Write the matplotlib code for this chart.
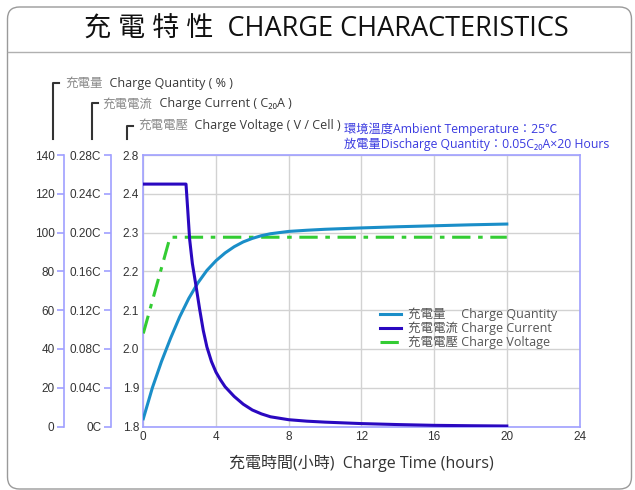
import matplotlib
matplotlib.use("Agg")
import matplotlib.pyplot as plt
from matplotlib.patches import FancyBboxPatch
from matplotlib.lines import Line2D

FAM = ['Open Sans', 'Noto Sans CJK TC', 'DejaVu Sans']
CJK = ['Noto Sans CJK TC', 'DejaVu Sans']
plt.rcParams['font.family'] = FAM

# ---------------- data ----------------
hours_q = [0, 0.5, 1, 1.5, 2, 2.5, 3, 3.5, 4, 4.5, 5, 5.5, 6, 6.5, 7, 8, 9, 10, 12, 14, 16, 18, 20]
quantity = [4, 20, 33.5, 45.5, 56.5, 66, 74, 80.5, 85.5, 89.5, 92.7, 95.2, 97, 98.4, 99.4,
            100.6, 101.2, 101.7, 102.4, 103, 103.5, 104, 104.4]

hours_c = [0, 2.35, 2.45, 2.55, 2.7, 2.9, 3.1, 3.3, 3.5, 3.75, 4, 4.25, 4.5, 5, 5.5, 6, 6.5,
           7, 7.5, 8, 9, 10, 12, 14, 16, 18, 20]
current = [0.25, 0.25, 0.222, 0.193, 0.168, 0.145, 0.121, 0.099, 0.082, 0.067, 0.056, 0.048,
           0.041, 0.031, 0.023, 0.017, 0.013, 0.010, 0.0085, 0.007, 0.0055, 0.0045, 0.003,
           0.002, 0.0012, 0.0008, 0.0005]

hours_v = [0, 1.47, 20]
voltage = [2.04, 2.288, 2.288]

x_ticks = [0, 4, 8, 12, 16, 20, 24]
v_ticks = [1.8, 1.9, 2.0, 2.1, 2.2, 2.3, 2.4, 2.5]
v_tick_labels = ["1.8", "1.9", "2.0", "2.1", "2.2", "2.3", "2.4", "2.8"]
q_ticks = [0, 20, 40, 60, 80, 100, 120, 140]
c_ticks = [0, 0.04, 0.08, 0.12, 0.16, 0.20, 0.24, 0.28]
c_tick_labels = ["0C", "0.04C", "0.08C", "0.12C", "0.16C", "0.20C", "0.24C", "0.28C"]

title = "充 電 特 性  CHARGE CHARACTERISTICS"
xlabel = "充電時間(小時)  Charge Time (hours)"
q_label = ("充電量", "  Charge Quantity ( % )")
c_label = ("充電電流", "  Charge Current ( C₂₀A )")
v_label = ("充電電壓", "  Charge Voltage ( V / Cell )")
note1 = "環境溫度Ambient Temperature：25℃"
note2 = "放電量Discharge Quantity：0.05C₂₀A×20 Hours"
legend_labels = ["充電量　 Charge Quantity", "充電電流 Charge Current", "充電電壓 Charge Voltage"]

# ---------------- styles ----------------
W, H = 635, 490
col_q = "#1a8ec8"
col_c = "#2a08c0"
col_v = "#33cc33"
spine_col = "#a0a0ff"
grid_col = "#d2d2d2"
num_font = ['Liberation Sans', 'DejaVu Sans']

fig = plt.figure(figsize=(W / 100, H / 100), dpi=100)
fig.patch.set_facecolor("white")

def fx(x):
    return x / W

def fy(y):
    return 1 - y / H

# frame box
box = FancyBboxPatch((0.075, 0.01), 6.24, 4.82,
                     boxstyle="round,pad=0,rounding_size=0.12",
                     transform=fig.dpi_scale_trans, facecolor="none",
                     edgecolor="#9a9a9a", linewidth=1.0)
fig.add_artist(box)
fig.add_artist(Line2D([fx(8), fx(631)], [fy(52), fy(52)], transform=fig.transFigure,
                      color="#b0b0b0", linewidth=1.0))
fig.text(fx(326), fy(30), title, ha="center", va="center", fontsize=19.5, color="#111111")

left, right, top, bottom = 143.3, 579.5, 155, 426.5
ax = fig.add_axes([fx(left), fy(bottom), (right - left) / W, (bottom - top) / H])
ax.set_xlim(0, 24)
ax.set_ylim(1.8, 2.5)
ax.set_xticks(x_ticks)
ax.set_xticklabels([str(t) for t in x_ticks], fontfamily=num_font, fontsize=8.5, color="#333333")
ax.set_yticks(v_ticks)
ax.set_yticklabels(v_tick_labels, fontfamily=num_font, fontsize=8.5, color="#333333")
ax.tick_params(axis="both", length=0)
ax.tick_params(axis="x", pad=3)
ax.tick_params(axis="y", pad=3)
ax.grid(True, color=grid_col, linewidth=1.0)
ax.set_axisbelow(True)
for s in ax.spines.values():
    s.set_color(spine_col)
    s.set_linewidth(1.2)
ax.set_xlabel(xlabel, fontsize=11.5, color="#333333", labelpad=9)

lv, = ax.plot(hours_v, voltage, color=col_v, linewidth=2.2,
              dashes=(6, 2.5, 1.5, 2.5), zorder=3)

def make_side(offset_px, ylim, ticks, labels):
    a = ax.twinx()
    a.set_ylim(*ylim)
    a.yaxis.set_ticks_position("left")
    a.yaxis.set_label_position("left")
    for k in ("right", "top", "bottom"):
        a.spines[k].set_visible(False)
    a.spines["left"].set_visible(True)
    a.spines["left"].set_position(("axes", offset_px / (right - left)))
    a.spines["left"].set_color(spine_col)
    a.spines["left"].set_linewidth(1.2)
    a.set_yticks(ticks)
    a.set_yticklabels(labels, fontfamily=num_font, fontsize=8.5, color="#333333")
    a.tick_params(axis="y", direction="out", length=5, width=1.2, color=spine_col, pad=2)
    return a

ax_q = make_side(64.3 - left, (0, 140), q_ticks, [str(t) for t in q_ticks])
ax_c = make_side(111 - left, (0, 0.28), c_ticks, c_tick_labels)

lq, = ax_q.plot(hours_q, quantity, color=col_q, linewidth=2.2)
lc, = ax_c.plot(hours_c, current, color=col_c, linewidth=2.2)

renderer = fig.canvas.get_renderer()

# axis label brackets
for (bx, by, tx, ty, (cj, en)) in [(53.3, 83.3, 65.7, 83.5, q_label),
                                   (92.0, 103.3, 102.7, 104.0, c_label),
                                   (127.3, 125.7, 138.3, 125.7, v_label)]:
    fig.add_artist(Line2D([fx(bx), fx(bx), fx(bx + 6)], [fy(139.5), fy(by), fy(by)],
                          transform=fig.transFigure, color="#333333", linewidth=1.5))
    t1 = fig.text(fx(tx), fy(ty), cj, ha="left", va="center", fontsize=9,
                  color="#8a8a8a", fontfamily=CJK)
    bb = t1.get_window_extent(renderer)
    fig.text(bb.x1 / W, fy(ty), en, ha="left", va="center", fontsize=9, color="#3a3a3a")

fig.text(fx(344), fy(129), note1, ha="left", va="center", fontsize=8.8, color="#3b3be0")
fig.text(fx(344), fy(144.5), note2, ha="left", va="center", fontsize=8.8, color="#3b3be0")

fig.legend([lq, lc, lv], legend_labels, loc="upper left",
           bbox_to_anchor=(fx(380), fy(307.5)), frameon=False, fontsize=9,
           labelcolor="#555555", handlelength=1.7, handletextpad=0.5,
           labelspacing=0.05, borderpad=0, borderaxespad=0)

fig.savefig("out.png", dpi=100, facecolor="white")
